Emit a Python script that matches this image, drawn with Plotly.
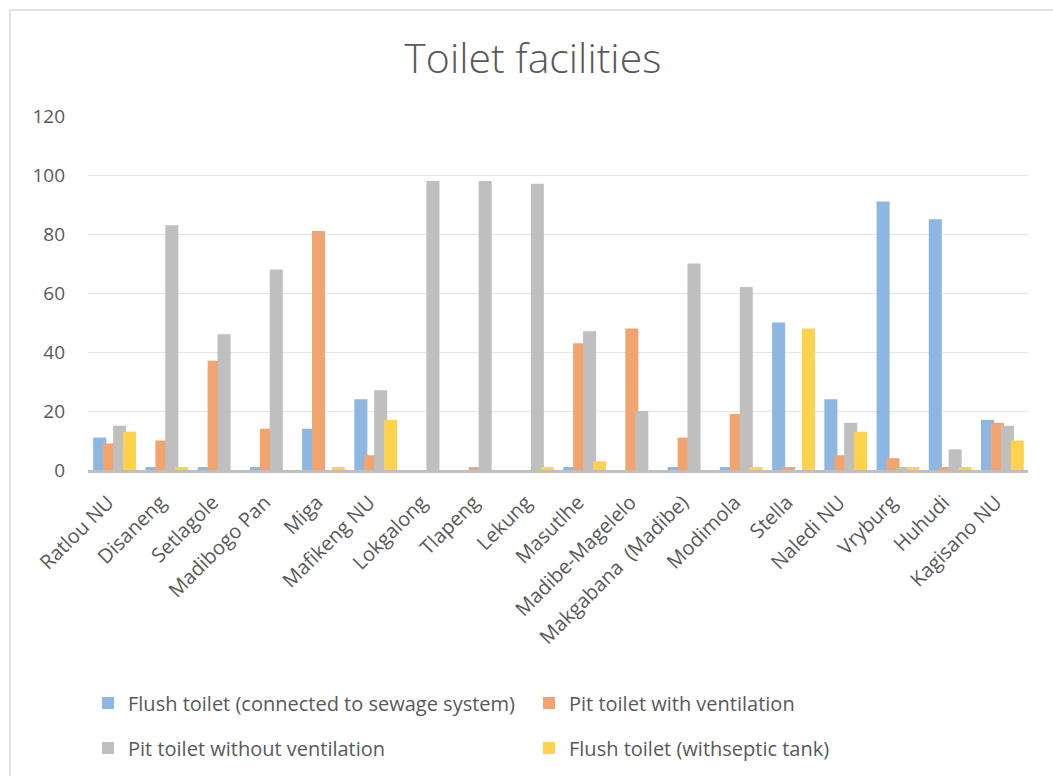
import plotly.graph_objs as go

places = ['Ratlou NU', 'Disaneng', 'Setlagole', 'Madibogo Pan', 'Miga', 'Mafikeng NU',
          'Lokgalong', 'Tlapeng', 'Lekung', 'Masutlhe', 'Madibe-Magelelo',
          'Makgabana  (Madibe)', 'Modimola', 'Stella', 'Naledi NU', 'Vryburg',
          'Huhudi', 'Kagisano NU']

flush_sewage = [11, 1, 1, 1, 14, 24, 0, 0, 0, 1, 0, 1, 1, 50, 24, 91, 85, 17]
pit_vent = [9, 10, 37, 14, 81, 5, 0, 1, 0, 43, 48, 11, 19, 1, 5, 4, 1, 16]
pit_no_vent = [15, 83, 46, 68, 0, 27, 98, 98, 97, 47, 20, 70, 62, 0, 16, 1, 7, 15]
flush_septic = [13, 1, 0, 0, 1, 17, 0, 0, 1, 3, 0, 0, 1, 48, 13, 1, 1, 10]

series = [
    ('Flush toilet (connected to sewage system)', flush_sewage, '#8db7e1', 'legend'),
    ('Pit toilet with ventilation', pit_vent, '#f1a46e', 'legend'),
    ('Pit toilet without ventilation', pit_no_vent, '#bfbfbf', 'legend2'),
    ('Flush toilet (withseptic tank)', flush_septic, '#ffd24d', 'legend2'),
]

TEXT = '#595959'
FONT = 'Open Sans'

fig = go.Figure()
bar_w = 0.25
for i, (name, vals, col, leg) in enumerate(series):
    fig.add_trace(go.Bar(
        x=places,
        y=vals,
        name=name,
        width=bar_w,
        offset=-0.40 + i * 0.19,
        marker=dict(color=col, line=dict(width=0)),
        legend=leg,
    ))

fig.update_layout(
    width=1053,
    height=776,
    barmode='overlay',
    template='simple_white',
    paper_bgcolor='white',
    plot_bgcolor='white',
    font=dict(family=FONT, color=TEXT, size=19),
    title=dict(text='Toilet facilities', x=0.506, xref='container', xanchor='center',
               y=0.925, yanchor='middle',
               font=dict(family=FONT, size=41, color=TEXT, weight=300)),
    margin=dict(l=88, r=25, t=116, b=306, autoexpand=False),
    xaxis=dict(
        tickangle=-45,
        showline=True, linecolor='#bfbfbf', linewidth=2.5,
        ticks='', tickfont=dict(size=20, color=TEXT),
        ticklabelshift=-6, ticklabelstandoff=10,
        range=[-0.5, 17.5],
    ),
    yaxis=dict(
        range=[0, 120], dtick=20,
        showline=False, ticks='', showgrid=True, gridcolor='#e6e6e6', gridwidth=1,
        zeroline=False, tickfont=dict(size=19, color=TEXT),
        ticklabelstandoff=22,
    ),
    legend=dict(orientation='h', x=0.0, y=-0.658, xanchor='left', yanchor='middle',
                entrywidth=396, entrywidthmode='pixels', font=dict(size=20, color=TEXT),
                bgcolor='rgba(0,0,0,0)'),
    legend2=dict(orientation='h', x=0.0, y=-0.785, xanchor='left', yanchor='middle',
                 entrywidth=396, entrywidthmode='pixels', font=dict(size=20, color=TEXT),
                 bgcolor='rgba(0,0,0,0)'),
    showlegend=True,
)

# chart frame
fig.add_shape(type='rect', xref='paper', yref='paper',
              x0=(10 - 88) / 940, x1=(1070 - 88) / 940,
              y0=(470 - 790) / 354, y1=(470 - 10) / 354,
              fillcolor='rgba(0,0,0,0)', opacity=1,
              line=dict(color='#d9d9d9', width=1.5), layer='below')

fig.write_html('out.html', config={'displayModeBar': False},
               post_script="document.body.style.margin='0';")
